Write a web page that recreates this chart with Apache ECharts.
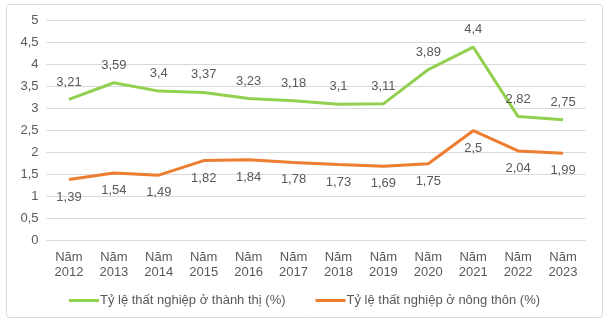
<!DOCTYPE html>
<html><head><meta charset="utf-8">
<script src="https://cdn.jsdelivr.net/npm/echarts@6/dist/echarts.min.js"></script>
<style>html,body{margin:0;padding:0;background:#fff}#c{width:609px;height:324px}</style>
</head><body><div id="c"></div>
<script>
const categories = ['Năm\n2012','Năm\n2013','Năm\n2014','Năm\n2015','Năm\n2016','Năm\n2017','Năm\n2018','Năm\n2019','Năm\n2020','Năm\n2021','Năm\n2022','Năm\n2023'];
const urbanName = 'Tỷ lệ thất nghiệp ở thành thị (%)';
const ruralName = 'Tỷ lệ thất nghiệp ở nông thôn (%)';
const urban = [3.21,3.59,3.4,3.37,3.23,3.18,3.1,3.11,3.89,4.4,2.82,2.75];
const rural = [1.39,1.54,1.49,1.82,1.84,1.78,1.73,1.69,1.75,2.5,2.04,1.99];
const yTicks = {min:0,max:5,interval:0.5};

const fmt = v => String(v).replace('.', ',');
const font = 'Liberation Sans, Arial, sans-serif';
const chart = echarts.init(document.getElementById('c'));
chart.setOption({
  animation:false,
  textStyle:{fontFamily:font},
  graphic:[{type:'rect',shape:{x:6.5,y:4.5,width:596,height:313,r:3},style:{fill:'none',stroke:'#d9d9d9',lineWidth:1},silent:true}],
  grid:{left:46.5,right:23.5,top:20.7,bottom:83.3},
  legend:{bottom:12,left:'center',itemWidth:30,itemHeight:3,itemGap:30,
    icon:'rect',textStyle:{fontSize:13,color:'#595959',fontFamily:font,padding:[0,0,0,-4]},
    data:[urbanName,ruralName]},
  xAxis:{type:'category',data:categories,boundaryGap:true,
    axisLine:{show:false},axisTick:{show:false},
    axisLabel:{fontSize:13,color:'#595959',lineHeight:15,margin:9,interval:0,fontFamily:font}},
  yAxis:{type:'value',min:yTicks.min,max:yTicks.max,interval:yTicks.interval,
    axisLabel:{fontSize:13,color:'#595959',margin:8,formatter:fmt,fontFamily:font},
    splitLine:{lineStyle:{color:'#d9d9d9',width:1}},axisLine:{show:false},axisTick:{show:false}},
  series:[
    {name:urbanName,type:'line',data:urban,symbol:'circle',symbolSize:0,showSymbol:true,lineStyle:{color:'#92D050',width:3},itemStyle:{color:'#92D050'},
      label:{show:true,position:'top',distance:11,fontSize:13,color:'#595959',formatter:p=>fmt(p.value),fontFamily:font}},
    {name:ruralName,type:'line',data:rural,symbol:'circle',symbolSize:0,showSymbol:true,lineStyle:{color:'#ED7D31',width:3},itemStyle:{color:'#ED7D31'},
      label:{show:true,position:'bottom',distance:11,fontSize:13,color:'#595959',formatter:p=>fmt(p.value),fontFamily:font}}
  ]
});
</script></body></html>
